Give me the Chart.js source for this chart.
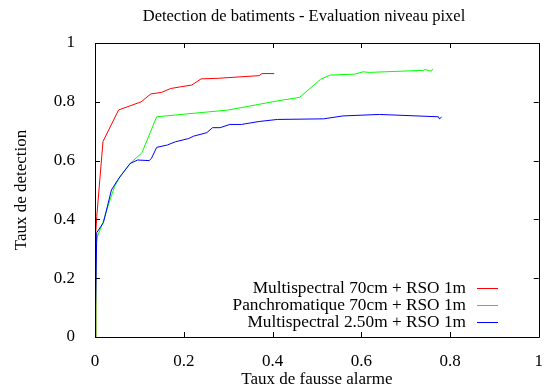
<!DOCTYPE html>
<html>
<head>
<meta charset="utf-8">
<script src="https://cdn.jsdelivr.net/npm/chart.js@4/dist/chart.umd.min.js"></script>
<style>
    html, body { margin: 0; padding: 0; background: #ffffff; }
    #wrap { width: 549px; height: 390px; }
</style>
</head>
<body>
<div id="wrap"><canvas id="chart" width="549" height="390"></canvas></div>
<script>
// series labels
var labels = [
    "Multispectral 70cm + RSO 1m",
    "Panchromatique 70cm + RSO 1m",
    "Multispectral 2.50m + RSO 1m"
];
var colors = ["#ff0000", "#00ff00", "#0000ff"];

// Multispectral 70cm
var redX = [0, 0.002, 0.004, 0.018, 0.053, 0.104, 0.126, 0.150, 0.170, 0.193, 0.218, 0.239, 0.278, 0.370, 0.376, 0.404];
var redY = [0, 0.36, 0.41, 0.665, 0.772, 0.800, 0.827, 0.832, 0.845, 0.851, 0.857, 0.878, 0.880, 0.889, 0.896, 0.896];

// Panchromatique 70cm
var greenX = [0, 0.002, 0.005, 0.018, 0.030, 0.044, 0.056, 0.081, 0.104, 0.106, 0.139, 0.300, 0.411, 0.461, 0.508, 0.530, 0.585, 0.604, 0.618, 0.741, 0.743, 0.758, 0.761];
var greenY = [0, 0.307, 0.34, 0.39, 0.449, 0.511, 0.545, 0.593, 0.624, 0.628, 0.749, 0.772, 0.803, 0.815, 0.876, 0.891, 0.894, 0.902, 0.900, 0.907, 0.910, 0.904, 0.912];

// Multispectral 2.50m
var blueX = [0, 0.004, 0.019, 0.037, 0.052, 0.079, 0.096, 0.122, 0.127, 0.139, 0.163, 0.181, 0.211, 0.222, 0.252, 0.265, 0.282, 0.304, 0.330, 0.370, 0.411, 0.515, 0.559, 0.641, 0.774, 0.776, 0.781];
var blueY = [0, 0.355, 0.389, 0.500, 0.536, 0.590, 0.602, 0.600, 0.607, 0.645, 0.653, 0.664, 0.675, 0.683, 0.695, 0.712, 0.712, 0.723, 0.723, 0.733, 0.740, 0.742, 0.752, 0.757, 0.749, 0.742, 0.748];

var tickValues = [0, 0.2, 0.4, 0.6, 0.8, 1];
var tickLabels = ["0", "0.2", "0.4", "0.6", "0.8", "1"];

var titleText = "Detection de batiments - Evaluation niveau pixel";
var xTitle = "Taux de fausse alarme";
var yTitle = "Taux de detection";

var FONT = "'Liberation Serif', 'DejaVu Serif', serif";

function toPoints(xs, ys) {
    var pts = [];
    for (var i = 0; i < xs.length; i++) {
        pts.push({ x: xs[i], y: ys[i] });
    }
    return pts;
}

var series = [toPoints(redX, redY), toPoints(greenX, greenY), toPoints(blueX, blueY)];

// cadre, graduations interieures, titres et legende facon gnuplot
var gnuplotDecor = {
    id: "gnuplotDecor",
    afterDraw: function (chart) {
        var ctx = chart.ctx;
        var a = chart.chartArea;
        var xs = chart.scales.x;
        var ys = chart.scales.y;
        var tl = 5;

        ctx.save();
        ctx.strokeStyle = "#000000";
        ctx.lineWidth = 1;
        ctx.beginPath();
        ctx.rect(Math.round(a.left) + 0.5, Math.round(a.top) + 0.5,
            Math.round(a.right - a.left), Math.round(a.bottom - a.top));
        ctx.stroke();

        ctx.beginPath();
        tickValues.forEach(function (v) {
            var px = Math.round(xs.getPixelForValue(v)) + 0.5;
            ctx.moveTo(px, a.bottom);
            ctx.lineTo(px, a.bottom - tl);
            ctx.moveTo(px, a.top);
            ctx.lineTo(px, a.top + tl);
            var py = Math.round(ys.getPixelForValue(v)) + 0.5;
            ctx.moveTo(a.left, py);
            ctx.lineTo(a.left + tl, py);
            ctx.moveTo(a.right, py);
            ctx.lineTo(a.right - tl, py);
        });
        ctx.stroke();

        ctx.fillStyle = "#000000";
        ctx.font = "16.5px " + FONT;
        ctx.textAlign = "center";
        ctx.textBaseline = "middle";
        ctx.fillText(titleText, 304, 17);

        ctx.font = "17px " + FONT;
        ctx.fillText(xTitle, (a.left + a.right) / 2, 380);

        ctx.save();
        ctx.translate(22, (a.top + a.bottom) / 2);
        ctx.rotate(-Math.PI / 2);
        ctx.fillText(yTitle, 0, 0);
        ctx.restore();

        // legende
        var rowY = [288, 305, 322];
        ctx.font = "17.3px " + FONT;
        ctx.textAlign = "right";
        for (var i = 0; i < labels.length; i++) {
            ctx.fillStyle = "#000000";
            ctx.fillText(labels[i], 466, rowY[i]);
            ctx.strokeStyle = colors[i];
            ctx.beginPath();
            ctx.moveTo(477, rowY[i] + 0.5);
            ctx.lineTo(498, rowY[i] + 0.5);
            ctx.stroke();
        }
        ctx.restore();
    }
};

var datasets = [];
for (var i = 0; i < series.length; i++) {
    datasets.push({
        label: labels[i],
        data: series[i],
        borderColor: colors[i],
        backgroundColor: colors[i],
        borderWidth: 1,
        pointRadius: 0,
        tension: 0,
        showLine: true,
        order: 3 - i
    });
}

new Chart(document.getElementById("chart"), {
    type: "scatter",
    data: { datasets: datasets },
    options: {
        responsive: false,
        animation: false,
        layout: { padding: { top: 43, right: 4, left: 0, bottom: 0 } },
        plugins: {
            legend: { display: false },
            title: { display: false },
            tooltip: { enabled: false }
        },
        scales: {
            x: {
                type: "linear",
                min: 0,
                max: 1,
                afterBuildTicks: function (s) {
                    s.ticks = tickValues.map(function (v) { return { value: v }; });
                },
                afterFit: function (s) { s.height = 53; },
                grid: { display: false },
                border: { display: false },
                ticks: {
                    color: "#000000",
                    font: { family: FONT, size: 17 },
                    padding: 6,
                    maxRotation: 0,
                    callback: function (v) { return tickLabels[tickValues.indexOf(v)]; }
                }
            },
            y: {
                type: "linear",
                min: 0,
                max: 1,
                afterBuildTicks: function (s) {
                    s.ticks = tickValues.map(function (v) { return { value: v }; });
                },
                afterFit: function (s) { s.width = 95; },
                grid: { display: false },
                border: { display: false },
                ticks: {
                    color: "#000000",
                    font: { family: FONT, size: 17 },
                    padding: 12,
                    callback: function (v) { return tickLabels[tickValues.indexOf(v)]; }
                }
            }
        }
    },
    plugins: [gnuplotDecor]
});
</script>
</body>
</html>
